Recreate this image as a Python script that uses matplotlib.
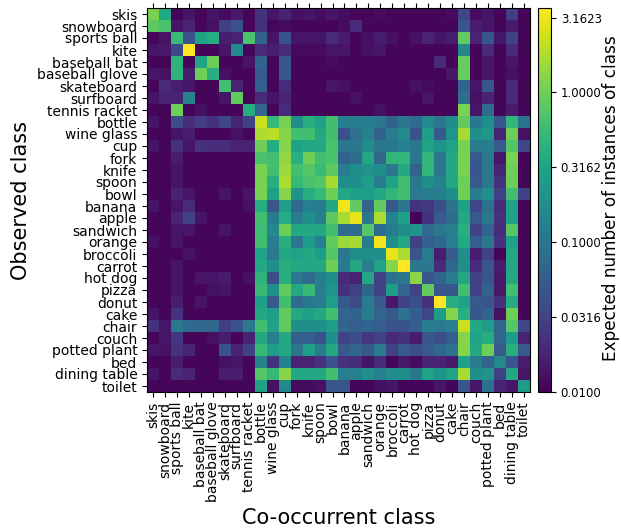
import matplotlib
matplotlib.use("Agg")
import matplotlib.pyplot as plt
import matplotlib.colors as mcolors
import numpy as np

classes = [
    "skis", "snowboard", "sports ball", "kite", "baseball bat", "baseball glove",
    "skateboard", "surfboard", "tennis racket", "bottle", "wine glass", "cup",
    "fork", "knife", "spoon", "bowl", "banana", "apple", "sandwich", "orange",
    "broccoli", "carrot", "hot dog", "pizza", "donut", "cake", "chair", "couch",
    "potted plant", "bed", "dining table", "toilet",
]

# expected number of instances of the co-occurrent class (columns)
# given one observed class (rows)
expected = [
    [1.12, 0.35, 0.011, 0.014, 0.011, 0.014, 0.012, 0.015, 0.011, 0.024, 0.014, 0.018, 0.013, 0.014, 0.012, 0.014, 0.012, 0.011, 0.011, 0.012, 0.011, 0.011, 0.011, 0.011, 0.011, 0.012, 0.036, 0.012, 0.014, 0.011, 0.029, 0.011],
    [0.83, 0.69, 0.014, 0.018, 0.011, 0.013, 0.032, 0.044, 0.011, 0.024, 0.011, 0.012, 0.011, 0.011, 0.011, 0.011, 0.012, 0.02, 0.011, 0.011, 0.011, 0.011, 0.011, 0.011, 0.011, 0.011, 0.047, 0.016, 0.014, 0.011, 0.016, 0.011],
    [0.011, 0.014, 0.55, 0.044, 0.30, 0.39, 0.016, 0.018, 0.69, 0.066, 0.014, 0.044, 0.014, 0.014, 0.014, 0.02, 0.016, 0.011, 0.013, 0.016, 0.013, 0.011, 0.013, 0.018, 0.014, 0.016, 0.89, 0.018, 0.049, 0.014, 0.032, 0.011],
    [0.014, 0.015, 0.036, 3.66, 0.011, 0.011, 0.014, 0.16, 0.011, 0.02, 0.016, 0.021, 0.012, 0.012, 0.012, 0.014, 0.014, 0.011, 0.013, 0.014, 0.011, 0.011, 0.011, 0.011, 0.011, 0.011, 0.16, 0.011, 0.02, 0.011, 0.02, 0.011],
    [0.011, 0.011, 0.46, 0.011, 0.30, 1.0, 0.011, 0.011, 0.014, 0.066, 0.011, 0.049, 0.011, 0.011, 0.011, 0.012, 0.011, 0.011, 0.011, 0.011, 0.011, 0.011, 0.011, 0.011, 0.02, 0.011, 0.93, 0.011, 0.014, 0.011, 0.014, 0.011],
    [0.014, 0.013, 0.46, 0.016, 1.0, 0.41, 0.013, 0.011, 0.011, 0.052, 0.011, 0.047, 0.011, 0.011, 0.011, 0.011, 0.011, 0.011, 0.011, 0.011, 0.011, 0.011, 0.011, 0.011, 0.011, 0.014, 0.93, 0.011, 0.014, 0.011, 0.013, 0.011],
    [0.011, 0.02, 0.016, 0.014, 0.011, 0.011, 0.62, 0.018, 0.011, 0.059, 0.011, 0.02, 0.011, 0.011, 0.011, 0.014, 0.013, 0.011, 0.011, 0.011, 0.011, 0.011, 0.013, 0.012, 0.011, 0.011, 0.069, 0.014, 0.049, 0.011, 0.02, 0.011],
    [0.014, 0.018, 0.018, 0.14, 0.011, 0.011, 0.014, 0.89, 0.011, 0.02, 0.014, 0.018, 0.011, 0.011, 0.011, 0.011, 0.011, 0.013, 0.011, 0.011, 0.011, 0.011, 0.011, 0.014, 0.011, 0.011, 0.083, 0.013, 0.018, 0.011, 0.02, 0.011],
    [0.011, 0.011, 1.0, 0.011, 0.013, 0.011, 0.011, 0.011, 0.39, 0.069, 0.011, 0.02, 0.011, 0.011, 0.011, 0.011, 0.011, 0.011, 0.011, 0.013, 0.011, 0.011, 0.011, 0.011, 0.011, 0.011, 1.12, 0.014, 0.079, 0.011, 0.016, 0.011],
    [0.014, 0.011, 0.041, 0.021, 0.029, 0.024, 0.036, 0.018, 0.032, 2.3, 0.52, 1.12, 0.19, 0.41, 0.29, 0.62, 0.126, 0.12, 0.12, 0.105, 0.066, 0.105, 0.079, 0.16, 0.105, 0.19, 0.89, 0.105, 0.19, 0.049, 0.49, 0.093],
    [0.011, 0.011, 0.014, 0.016, 0.011, 0.011, 0.011, 0.013, 0.011, 1.78, 2.0, 1.26, 0.62, 0.62, 0.35, 0.62, 0.044, 0.088, 0.135, 0.066, 0.12, 0.16, 0.044, 0.27, 0.052, 0.21, 1.7, 0.19, 0.23, 0.018, 1.0, 0.013],
    [0.014, 0.011, 0.024, 0.014, 0.024, 0.021, 0.021, 0.018, 0.018, 1.0, 0.39, 1.26, 0.29, 0.35, 0.35, 0.69, 0.105, 0.105, 0.19, 0.105, 0.105, 0.135, 0.105, 0.30, 0.21, 0.30, 1.12, 0.12, 0.12, 0.052, 0.78, 0.036],
    [0.011, 0.011, 0.016, 0.011, 0.011, 0.011, 0.011, 0.011, 0.011, 0.69, 0.62, 1.41, 0.41, 1.0, 0.62, 0.69, 0.066, 0.079, 0.35, 0.074, 0.49, 0.49, 0.105, 0.49, 0.105, 0.35, 1.12, 0.052, 0.105, 0.014, 1.12, 0.011],
    [0.011, 0.011, 0.014, 0.011, 0.011, 0.011, 0.011, 0.011, 0.011, 1.12, 0.62, 1.51, 0.62, 0.78, 0.55, 0.83, 0.12, 0.19, 0.21, 0.19, 0.105, 0.35, 0.066, 0.49, 0.105, 0.35, 1.12, 0.047, 0.105, 0.018, 1.0, 0.011],
    [0.011, 0.011, 0.014, 0.011, 0.011, 0.011, 0.011, 0.011, 0.011, 1.12, 0.41, 1.78, 0.52, 0.69, 0.78, 1.7, 0.19, 0.19, 0.27, 0.12, 0.30, 0.62, 0.105, 0.19, 0.14, 0.35, 1.0, 0.052, 0.105, 0.024, 1.0, 0.011],
    [0.011, 0.011, 0.018, 0.014, 0.011, 0.011, 0.014, 0.011, 0.014, 1.12, 0.29, 1.26, 0.21, 0.41, 0.52, 1.0, 0.35, 0.29, 0.27, 0.35, 0.49, 0.62, 0.105, 0.12, 0.126, 0.19, 1.0, 0.12, 0.19, 0.032, 0.62, 0.032],
    [0.014, 0.011, 0.014, 0.02, 0.011, 0.011, 0.011, 0.011, 0.013, 0.39, 0.049, 0.27, 0.079, 0.126, 0.12, 0.35, 3.2, 0.89, 0.069, 0.89, 0.052, 0.105, 0.024, 0.026, 0.041, 0.093, 0.29, 0.036, 0.093, 0.021, 0.30, 0.011],
    [0.011, 0.011, 0.018, 0.032, 0.014, 0.011, 0.011, 0.011, 0.011, 0.62, 0.12, 0.39, 0.12, 0.19, 0.126, 0.83, 1.7, 3.0, 0.105, 1.78, 0.14, 0.29, 0.011, 0.024, 0.052, 0.079, 0.35, 0.052, 0.105, 0.023, 0.30, 0.011],
    [0.011, 0.011, 0.014, 0.014, 0.011, 0.011, 0.014, 0.011, 0.011, 0.59, 0.16, 1.0, 0.35, 0.35, 0.35, 0.62, 0.079, 0.079, 0.78, 0.079, 0.12, 0.19, 0.21, 0.079, 0.105, 0.126, 0.41, 0.032, 0.069, 0.021, 0.78, 0.011],
    [0.013, 0.011, 0.014, 0.011, 0.011, 0.011, 0.011, 0.011, 0.011, 0.62, 0.12, 0.41, 0.105, 0.26, 0.126, 0.89, 1.51, 1.7, 0.12, 3.2, 0.19, 0.35, 0.032, 0.059, 0.074, 0.126, 0.35, 0.059, 0.105, 0.023, 0.29, 0.011],
    [0.011, 0.011, 0.011, 0.013, 0.011, 0.011, 0.011, 0.011, 0.011, 0.30, 0.105, 0.35, 0.30, 0.35, 0.27, 0.78, 0.105, 0.19, 0.19, 0.19, 3.0, 1.78, 0.047, 0.12, 0.016, 0.052, 0.19, 0.016, 0.032, 0.011, 0.35, 0.011],
    [0.011, 0.011, 0.014, 0.011, 0.011, 0.011, 0.011, 0.011, 0.011, 0.35, 0.19, 0.41, 0.35, 0.35, 0.35, 1.0, 0.12, 0.35, 0.126, 0.30, 1.26, 3.6, 0.105, 0.105, 0.02, 0.074, 0.19, 0.02, 0.049, 0.016, 0.35, 0.011],
    [0.011, 0.011, 0.014, 0.011, 0.014, 0.014, 0.016, 0.011, 0.013, 0.46, 0.041, 0.41, 0.105, 0.079, 0.126, 0.19, 0.02, 0.018, 0.35, 0.032, 0.093, 0.105, 1.32, 0.049, 0.069, 0.12, 0.35, 0.032, 0.049, 0.015, 0.35, 0.011],
    [0.011, 0.011, 0.014, 0.011, 0.011, 0.013, 0.014, 0.011, 0.011, 0.55, 0.19, 0.89, 0.35, 0.55, 0.126, 0.21, 0.024, 0.032, 0.074, 0.032, 0.26, 0.069, 0.032, 0.89, 0.049, 0.049, 0.62, 0.032, 0.066, 0.015, 0.62, 0.011],
    [0.011, 0.011, 0.016, 0.011, 0.014, 0.011, 0.011, 0.011, 0.011, 0.29, 0.052, 0.62, 0.079, 0.105, 0.12, 0.27, 0.052, 0.039, 0.12, 0.052, 0.015, 0.032, 0.044, 0.023, 3.6, 0.41, 0.30, 0.052, 0.049, 0.023, 0.39, 0.011],
    [0.014, 0.011, 0.024, 0.011, 0.011, 0.011, 0.011, 0.011, 0.011, 0.35, 0.27, 0.89, 0.35, 0.29, 0.35, 0.62, 0.069, 0.066, 0.12, 0.069, 0.052, 0.093, 0.059, 0.036, 0.26, 1.26, 0.41, 0.049, 0.069, 0.013, 1.0, 0.011],
    [0.023, 0.014, 0.105, 0.079, 0.074, 0.074, 0.029, 0.044, 0.105, 0.62, 0.30, 0.89, 0.19, 0.19, 0.19, 0.27, 0.069, 0.059, 0.069, 0.059, 0.044, 0.044, 0.059, 0.12, 0.105, 0.126, 2.3, 0.35, 0.27, 0.069, 0.78, 0.036],
    [0.011, 0.014, 0.026, 0.011, 0.011, 0.013, 0.016, 0.011, 0.018, 0.35, 0.126, 0.35, 0.059, 0.059, 0.044, 0.19, 0.032, 0.041, 0.026, 0.032, 0.02, 0.024, 0.016, 0.049, 0.041, 0.059, 1.26, 0.30, 0.39, 0.069, 0.26, 0.018],
    [0.014, 0.013, 0.024, 0.018, 0.011, 0.011, 0.044, 0.018, 0.032, 0.55, 0.27, 0.35, 0.105, 0.27, 0.12, 0.35, 0.052, 0.074, 0.052, 0.12, 0.032, 0.052, 0.041, 0.052, 0.074, 0.093, 1.26, 0.35, 1.0, 0.052, 0.41, 0.052],
    [0.011, 0.011, 0.016, 0.011, 0.011, 0.011, 0.013, 0.014, 0.011, 0.14, 0.024, 0.14, 0.018, 0.018, 0.023, 0.044, 0.023, 0.021, 0.014, 0.02, 0.011, 0.015, 0.012, 0.018, 0.018, 0.015, 0.29, 0.12, 0.069, 0.16, 0.049, 0.016],
    [0.014, 0.011, 0.02, 0.018, 0.011, 0.011, 0.016, 0.016, 0.011, 0.78, 0.52, 1.26, 0.35, 0.35, 0.35, 0.62, 0.126, 0.126, 0.19, 0.126, 0.19, 0.19, 0.105, 0.30, 0.21, 0.30, 1.7, 0.19, 0.21, 0.032, 0.35, 0.014],
    [0.011, 0.011, 0.011, 0.011, 0.011, 0.011, 0.011, 0.011, 0.011, 0.30, 0.013, 0.17, 0.012, 0.012, 0.013, 0.047, 0.049, 0.011, 0.011, 0.013, 0.014, 0.011, 0.011, 0.011, 0.014, 0.011, 0.047, 0.014, 0.093, 0.018, 0.014, 0.27],
]

cbar_ticks = [0.01, 0.0316, 0.1, 0.3162, 1.0, 3.1623]


def main():
    data = np.array(expected)
    fig = plt.figure(figsize=(6.21, 5.29), dpi=100)
    ax = fig.add_axes([147 / 621, 1 - 392 / 529, 383 / 621, 384 / 529])
    cax = fig.add_axes([538 / 621, 1 - 392 / 529, 13 / 621, 384 / 529])

    norm = mcolors.LogNorm(vmin=0.01, vmax=data.max(), clip=True)
    im = ax.imshow(data, cmap="viridis", norm=norm, aspect="auto",
                   interpolation="nearest")

    n = len(classes)
    ax.set_xticks(np.arange(n))
    ax.set_xticklabels(classes, rotation=90, fontsize=10)
    ax.set_yticks(np.arange(n))
    ax.set_yticklabels(classes, fontsize=10)
    ax.tick_params(axis="x", top=True, bottom=True, labeltop=False)
    ax.set_xlabel("Co-occurrent class", fontsize=15)
    ax.set_ylabel("Observed class", fontsize=15)

    cbar = fig.colorbar(im, cax=cax)
    cbar.set_ticks(cbar_ticks)
    cbar.set_ticklabels([f"{t:.4f}" for t in cbar_ticks])
    cbar.ax.minorticks_off()
    cbar.ax.tick_params(labelsize=8.5)
    # colorbar title placed by hand, right against the figure edge
    fig.text(611 / 621, 1 - 198.5 / 529, "Expected number of instances of class",
             rotation=90, fontsize=12.2, ha="center", va="center")

    fig.savefig("out.png", dpi=100)
    plt.close(fig)


if __name__ == "__main__":
    main()
